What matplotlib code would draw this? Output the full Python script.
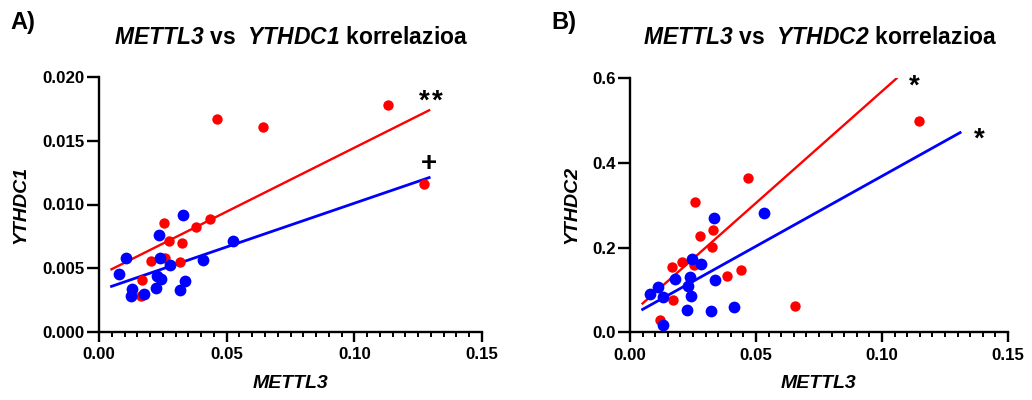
import matplotlib
matplotlib.use("Agg")
import matplotlib.pyplot as plt
from matplotlib.ticker import MultipleLocator, FormatStrFormatter

plt.rcParams['font.family'] = ['Liberation Sans', 'DejaVu Sans']
plt.rcParams['mathtext.fontset'] = 'custom'
plt.rcParams['mathtext.bfit'] = 'Liberation Sans:italic:bold'
plt.rcParams['mathtext.it'] = 'Liberation Sans:italic:bold'
plt.rcParams['mathtext.bf'] = 'Liberation Sans:bold'
plt.rcParams['mathtext.rm'] = 'Liberation Sans:bold'

# ---------------- Data: panel A (METTL3 vs YTHDC1) ----------------
a_red_x = [0.0464, 0.0644, 0.0256, 0.0436, 0.0379, 0.0274, 0.0325, 0.0202,
           0.0259, 0.0319, 0.0170, 0.0163, 0.1132, 0.1273]
a_red_y = [0.01674, 0.01608, 0.00855, 0.00886, 0.00824, 0.00717, 0.00698, 0.00554,
           0.00578, 0.00549, 0.00411, 0.00280, 0.01784, 0.01164]
a_blue_x = [0.0329, 0.0234, 0.0525, 0.0107, 0.0238, 0.0277, 0.0407, 0.0080,
            0.0227, 0.0244, 0.0128, 0.0336, 0.0316, 0.0223, 0.0127, 0.0175]
a_blue_y = [0.00915, 0.00764, 0.00714, 0.00583, 0.00583, 0.00526, 0.00562, 0.00458,
            0.00439, 0.00413, 0.00340, 0.00398, 0.00333, 0.00348, 0.00280, 0.00296]
a_fit_x = [0.0049, 0.1293]
a_fit_red_y = [0.00492, 0.01739]
a_fit_blue_y = [0.00358, 0.01211]

# ---------------- Data: panel B (METTL3 vs YTHDC2) ----------------
b_red_x = [0.0470, 0.0257, 0.0329, 0.0279, 0.0325, 0.0165, 0.0208, 0.0254,
           0.0386, 0.0442, 0.0172, 0.0120, 0.1147, 0.0653]
b_red_y = [0.363, 0.307, 0.241, 0.226, 0.201, 0.155, 0.166, 0.159,
           0.133, 0.147, 0.076, 0.028, 0.498, 0.063]
b_blue_x = [0.0532, 0.0335, 0.0246, 0.0282, 0.0179, 0.0238, 0.0231, 0.0339,
            0.0110, 0.0081, 0.0130, 0.0241, 0.0225, 0.0320, 0.0413, 0.0130]
b_blue_y = [0.281, 0.270, 0.174, 0.160, 0.126, 0.130, 0.109, 0.123,
            0.108, 0.090, 0.083, 0.086, 0.052, 0.050, 0.060, 0.017]
b_fit_red_x = [0.0050, 0.1058]
b_fit_red_y = [0.068, 0.599]
b_fit_blue_x = [0.0050, 0.1310]
b_fit_blue_y = [0.054, 0.471]

xticks = [0.00, 0.05, 0.10, 0.15]
a_yticks = [0.000, 0.005, 0.010, 0.015, 0.020]
b_yticks = [0.0, 0.2, 0.4, 0.6]

RED = '#FF0000'
BLUE = '#0000FF'

fig = plt.figure(figsize=(10.32, 4.0), dpi=100)
axA = fig.add_axes([99/1032, 1-332/400, (482-99)/1032, (332-77)/400])
axB = fig.add_axes([630/1032, 1-332.3/400, (1008-630)/1032, (332.3-77.9)/400])


def style(ax, yticks, yfmt, ylabel, ylab_x):
    for s in ['top', 'right']:
        ax.spines[s].set_visible(False)
    for s in ['left', 'bottom']:
        ax.spines[s].set_linewidth(1.7)
    ax.set_xlim(0, 0.15)
    ax.set_ylim(yticks[0], yticks[-1])
    ax.set_xticks(xticks)
    ax.set_yticks(yticks)
    ax.xaxis.set_minor_locator(MultipleLocator(0.005))
    ax.xaxis.set_major_formatter(FormatStrFormatter('%.2f'))
    ax.yaxis.set_major_formatter(FormatStrFormatter(yfmt))
    ax.tick_params(axis='x', which='major', length=7, width=1.7, pad=4,
                   labelsize=12.2, direction='out')
    ax.tick_params(axis='x', which='minor', length=3.5, width=1.4, direction='out')
    ax.tick_params(axis='y', which='major', length=9, width=1.7, pad=1.0,
                   labelsize=12.2, direction='out')
    for lab in ax.get_xticklabels() + ax.get_yticklabels():
        lab.set_fontweight('bold')
    xl = ax.set_xlabel('METTL3', fontsize=14, fontweight='bold', fontstyle='italic')
    yl = ax.set_ylabel(ylabel, fontsize=14, fontweight='bold', fontstyle='italic')
    xl.set_va('center')
    yl.set_va('center')
    ax.xaxis.set_label_coords(0.5, -0.2)
    ax.yaxis.set_label_coords(ylab_x, 0.5)


# Panel A
axA.plot(a_fit_x, a_fit_red_y, color=RED, lw=1.7, zorder=2)
axA.plot(a_fit_x, a_fit_blue_y, color=BLUE, lw=2.0, zorder=2)
axA.scatter(a_red_x, a_red_y, s=56, color=RED, linewidths=0, zorder=3)
axA.scatter(a_blue_x, a_blue_y, s=72, color=BLUE, linewidths=0, zorder=4)
style(axA, a_yticks, '%.3f', 'YTHDC1', -0.204)
for sx in (0.1272, 0.1323):
    axA.text(sx, 0.0175, '*', fontsize=20, fontweight='bold', ha='center', va='baseline')
axA.text(0.1293, 0.01262, '+', fontsize=20, fontweight='bold', ha='center', va='baseline')

# Panel B
axB.plot(b_fit_red_x, b_fit_red_y, color=RED, lw=1.7, zorder=2)
axB.plot(b_fit_blue_x, b_fit_blue_y, color=BLUE, lw=2.0, zorder=2)
axB.scatter(b_red_x, b_red_y, s=56, color=RED, linewidths=0, zorder=3)
axB.scatter(b_blue_x, b_blue_y, s=72, color=BLUE, linewidths=0, zorder=4)
style(axB, b_yticks, '%.1f', 'YTHDC2', -0.153)
axB.text(0.1127, 0.5623, '*', fontsize=20, fontweight='bold', ha='center', va='baseline')
axB.text(0.1386, 0.438, '*', fontsize=20, fontweight='bold', ha='center', va='baseline')

# Titles
fig.text(10/1032, 1-22/400, 'A)', fontsize=17, fontweight='bold', ha='left', va='center')
fig.text(551/1032, 1-22/400, 'B)', fontsize=17, fontweight='bold', ha='left', va='center')
fig.text(291/1032, 1-38/400, r'$\mathbfit{METTL3}$ vs  $\mathbfit{YTHDC1}$ korrelazioa',
         fontsize=16.5, fontweight='bold', ha='center', va='center')
fig.text(820/1032, 1-38/400, r'$\mathbfit{METTL3}$ vs  $\mathbfit{YTHDC2}$ korrelazioa',
         fontsize=16.5, fontweight='bold', ha='center', va='center')

fig.savefig('out.png', dpi=100)
